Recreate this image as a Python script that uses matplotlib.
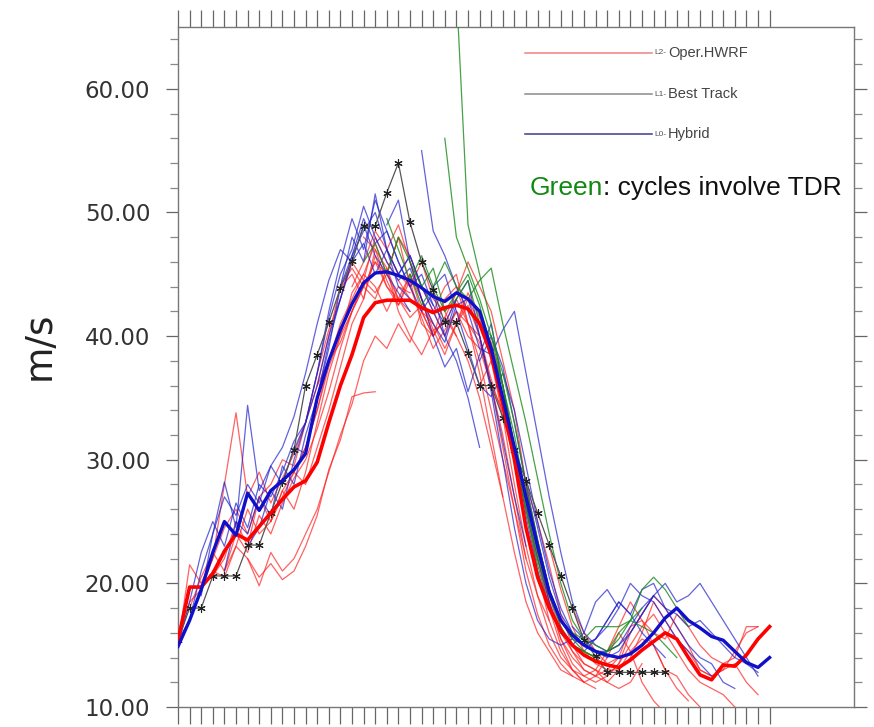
import matplotlib
matplotlib.use("Agg")
import matplotlib.pyplot as plt
from matplotlib.lines import Line2D
from matplotlib.ticker import MultipleLocator, FormatStrFormatter

# 6-hourly steps along the x axis
tick_steps = list(range(52))

# best track (stars)
best_track = [15.4, 18.0, 18.0, 20.6, 20.6, 20.6, 23.1, 23.1, 25.7, 28.2,
              30.8, 36.0, 38.5, 41.1, 43.9, 46.1, 48.9, 48.9, 51.6, 54.0,
              49.2, 46.0, 43.7, 41.1, 41.1, 38.6, 36.0, 36.0, 33.4, 30.8,
              28.3, 25.7, 23.1, 20.6, 18.0, 15.4, 14.1, 12.8, 12.8, 12.8,
              12.8, 12.8, 12.8]

# mean of the hybrid runs (thick blue)
hybrid_mean = [14.9, 17.0, 19.5, 22.5, 25.0, 23.9, 27.3, 25.9, 27.5, 28.3,
               29.2, 30.5, 35.0, 38.0, 40.5, 42.6, 44.3, 45.1, 45.2, 44.9,
               44.5, 43.9, 43.2, 42.8, 43.5, 43.0, 42.0, 39.0, 35.0, 31.0,
               27.0, 23.0, 19.3, 17.0, 15.8, 15.0, 14.5, 14.2, 14.0, 14.3,
               15.0, 16.0, 17.2, 18.0, 17.0, 16.4, 15.7, 15.4, 14.5, 13.6,
               13.2, 14.0]

# mean of the operational runs (thick red)
oper_mean = [15.4, 19.7, 19.7, 20.8, 22.6, 24.0, 23.5, 24.6, 25.7, 26.8,
             27.8, 28.3, 29.8, 33.0, 36.0, 38.5, 41.5, 42.7, 42.9, 42.9,
             42.9, 42.3, 41.9, 42.3, 42.5, 42.2, 41.0, 38.5, 34.5, 30.0,
             24.5, 20.5, 18.0, 16.2, 15.0, 14.2, 13.7, 13.4, 13.2, 13.8,
             14.6, 15.3, 16.0, 15.5, 14.0, 12.6, 12.2, 13.4, 13.3, 14.2,
             15.5, 16.5]

# single forecasts: (first step, values)
oper_runs = [
    (0, [15.0, 21.5, 20.0, 22.0, 24.5, 26.0, 24.0, 27.0, 28.0, 30.0, 29.5,
         33.0, 36.0, 40.0, 44.0, 45.5, 44.0, 46.0, 44.0, 43.0, 42.0]),
    (0, [15.4, 18.5, 19.5, 21.0, 20.5, 23.0, 26.0, 24.0, 25.0, 27.0, 29.0,
         31.0, 34.0, 38.0, 41.0, 43.0, 45.0, 44.0, 42.0, 44.0, 43.5]),
    (1, [18.0, 20.5, 22.5, 21.0, 24.0, 22.5, 25.5, 24.0, 26.5, 28.5, 30.0,
         32.5, 35.5, 39.0, 42.0, 44.5, 43.5, 45.0, 43.0, 41.5, 42.5]),
    (2, [19.5, 22.0, 28.0, 33.8, 27.0, 29.0, 26.5, 28.5, 30.5, 33.0, 37.0,
         40.5, 43.0, 46.0, 44.5, 48.0, 46.0, 44.5, 43.0, 42.0, 41.0]),
    (3, [20.6, 22.0, 25.0, 23.0, 27.0, 25.0, 27.5, 29.0, 28.0, 31.0, 34.0,
         37.5, 41.0, 43.0, 46.5, 44.0, 42.5, 44.5, 41.0, 40.0, 41.5]),
    (4, [21.0, 23.0, 22.0, 19.8, 22.5, 21.0, 22.0, 24.0, 26.0, 29.0, 32.0,
         34.5, 38.0, 40.0, 39.0, 41.0, 39.5, 42.0, 40.0, 41.5, 40.0]),
    (6, [22.0, 20.5, 21.6, 20.3, 21.0, 23.0, 25.5, 29.2, 31.6, 35.1, 35.4,
         35.5]),
    (8, [25.0, 27.5, 26.0, 29.0, 33.0, 37.0, 40.0, 43.5, 45.0, 47.5, 45.0,
         48.0, 44.0, 46.0, 43.0, 42.0, 40.0, 38.0, 35.0, 31.0, 27.0]),
    (10, [29.0, 31.0, 34.0, 37.5, 40.0, 42.0, 44.0, 43.0, 45.5, 42.0, 40.0,
          38.5, 40.5, 41.0, 43.0, 41.0, 38.0, 34.0, 30.0, 26.0, 22.0]),
    (12, [36.0, 38.0, 39.5, 42.0, 44.0, 46.0, 45.0, 48.0, 46.5, 44.0, 42.0,
          40.0, 42.0, 41.0, 39.5, 36.0, 32.0, 27.0, 22.0, 19.0, 17.0]),
    (14, [43.9, 45.0, 43.0, 47.0, 45.5, 43.0, 45.0, 42.0, 40.0, 43.0, 44.0,
          41.0, 37.0, 32.0, 27.0, 22.5, 18.5, 16.0, 14.5, 13.0, 12.5]),
    (15, [44.0, 46.0, 48.5, 47.0, 45.0, 44.0, 41.5, 39.0, 40.5, 42.0, 40.0,
          39.0, 36.0, 31.0, 26.0, 21.0, 17.5, 15.0, 13.5, 12.5, 12.0]),
    (16, [48.0, 47.0, 44.5, 42.5, 45.0, 43.0, 40.5, 38.5, 41.0, 43.5, 41.5,
          38.0, 33.5, 28.0, 23.0, 19.0, 16.0, 14.0, 13.0, 12.0, 11.5]),
    (18, [47.0, 49.0, 46.0, 43.0, 40.0, 41.5, 43.5, 46.0, 44.0, 42.0, 38.0,
          34.0, 28.0, 23.0, 18.5, 15.5, 14.0, 13.0, 12.5, 13.0, 14.0]),
    (20, [46.0, 43.0, 41.0, 39.0, 41.0, 43.0, 41.0, 39.5, 36.0, 31.0, 26.5,
          21.0, 17.0, 14.5, 13.0, 12.5, 13.0, 12.0, 11.5, 12.0, 13.5]),
    (22, [42.0, 44.0, 45.0, 41.0, 40.0, 36.5, 33.5, 30.0, 26.0, 22.0, 18.0,
          15.0, 13.0, 12.0, 12.5, 14.0, 16.0, 14.5, 12.0, 10.5, 9.5]),
    (24, [41.0, 42.5, 40.0, 36.0, 34.0, 31.0, 27.5, 23.5, 19.5, 16.5, 14.5,
          13.0, 12.5, 12.0, 13.0, 14.5, 15.5, 15.0, 13.0, 11.5, 10.5]),
    (26, [36.0, 38.0, 35.0, 31.0, 27.0, 23.0, 19.0, 16.0, 14.5, 13.5, 13.0,
          14.5, 16.5, 18.5, 17.0, 15.0, 13.0, 12.5, 11.0, 10.0, 9.0]),
    (28, [33.5, 30.5, 27.0, 22.5, 18.5, 15.5, 13.5, 12.5, 12.0, 12.5, 13.5,
          15.0, 16.5, 17.5, 16.0, 14.5, 13.0, 12.0, 11.5, 11.0, 10.0]),
    (30, [28.0, 25.0, 21.5, 17.5, 15.0, 13.5, 13.0, 12.5, 13.5, 16.0, 17.5,
          19.0, 18.0, 16.5, 15.0, 13.0, 12.5, 13.0, 13.5, 12.0, 11.0]),
    (32, [23.0, 19.5, 16.5, 14.5, 13.5, 13.0, 13.0, 14.0, 16.0, 18.5, 17.0,
          15.5, 14.5, 13.0, 12.5, 13.0, 14.5, 16.0, 16.5]),
    (34, [18.0, 16.0, 14.5, 13.5, 14.0, 16.5, 17.0, 16.0, 15.5, 17.5, 16.5,
          15.0, 14.0, 13.5, 14.0, 16.5, 16.5]),
]

hybrid_runs = [
    (0, [15.0, 18.5, 22.5, 25.0, 23.0, 26.5, 24.5, 28.0, 27.0, 29.0, 31.5,
         33.0, 36.0, 40.0, 43.0, 46.0, 47.5, 45.0, 47.0, 44.0, 43.0]),
    (0, [15.4, 17.0, 21.0, 24.0, 27.0, 25.5, 28.0, 26.5, 29.5, 31.0, 33.5,
         37.0, 41.0, 44.5, 47.0, 46.0, 49.0, 46.5, 45.0, 43.5, 42.0]),
    (2, [19.0, 24.0, 28.2, 24.5, 34.4, 27.5, 29.5, 28.0, 31.0, 30.5, 35.0,
         39.0, 44.0, 48.0, 46.0, 51.5, 47.0, 45.0, 46.5, 44.0, 42.5]),
    (4, [21.0, 25.0, 24.0, 27.0, 25.5, 29.5, 28.0, 32.0, 35.0, 39.5, 43.0,
         46.5, 49.5, 47.5, 48.5, 46.0, 44.0, 45.0, 42.5, 41.0, 43.0]),
    (6, [23.0, 24.5, 27.5, 26.0, 30.0, 33.0, 37.0, 42.0, 46.0, 49.5, 47.0,
         51.0, 48.5, 46.0, 44.0, 42.0, 43.5, 40.0, 38.0, 35.0, 31.0]),
    (10, [30.8, 33.0, 37.0, 41.5, 45.0, 47.0, 50.5, 48.0, 46.0, 44.5, 45.5,
          43.0, 41.0, 39.5, 42.5, 43.0, 40.0, 36.0, 31.5, 27.0, 23.0]),
    (14, [44.0, 46.5, 48.5, 50.0, 47.0, 45.0, 46.5, 44.0, 42.0, 40.0, 43.0,
          44.5, 40.0, 35.5, 30.0, 24.5, 20.0, 17.0, 15.5, 15.0, 15.5]),
    (18, [49.0, 51.0, 46.0, 43.0, 40.0, 37.5, 39.0, 35.5, 38.5, 41.0, 36.0,
          31.0, 25.5, 21.0, 18.0, 16.0, 15.0, 16.0, 18.5, 19.5, 18.0]),
    (21, [55.0, 48.5, 46.5, 44.0, 42.0, 39.0, 38.5, 40.5, 42.0, 37.0, 32.0,
          27.0, 22.5, 18.5, 16.0, 15.0, 14.5, 15.0, 16.5, 18.0, 19.0]),
    (22, [44.0, 45.0, 42.0, 39.0, 36.0, 35.1, 37.0, 34.0, 29.5, 25.0, 21.0,
          18.0, 16.0, 15.0, 15.5, 17.0, 18.5, 17.5, 16.0, 15.0, 14.0]),
    (26, [38.0, 40.0, 37.5, 33.0, 28.0, 23.5, 19.5, 17.0, 15.5, 15.0, 15.5,
          16.5, 18.0, 20.0, 19.0, 18.5, 17.0, 15.5, 14.5, 13.5, 12.5]),
    (28, [34.0, 31.0, 26.5, 22.0, 18.5, 16.0, 15.0, 14.5, 15.5, 17.0, 18.5,
          17.5, 19.5, 20.0, 18.0, 16.5, 15.0, 14.0, 13.5, 12.0, 11.5]),
    (30, [28.5, 24.5, 20.5, 17.5, 16.0, 15.0, 14.5, 14.5, 15.0, 16.0, 17.5,
          19.0, 20.0, 18.5, 19.0, 20.0, 18.5, 17.0, 15.5, 14.0, 12.5]),
    (34, [16.5, 15.5, 14.5, 14.0, 14.5, 16.0, 17.5, 19.0, 18.0, 17.5, 16.5,
          17.0, 16.0, 15.0, 14.0, 13.5, 12.8]),
]

# hybrid cycles with TDR data (green)
tdr_runs = [
    (16, [46.0, 47.5, 45.0, 48.0, 46.0, 44.0, 45.5, 42.0, 43.0, 44.5, 41.0,
          40.0, 37.0, 33.0, 28.0, 23.5, 19.5, 17.0, 15.5, 14.5, 14.0]),
    (18, [49.5, 47.0, 44.5, 46.5, 44.0, 42.0, 43.5, 45.0, 42.5, 39.0, 36.0,
          31.0, 26.0, 21.5, 18.0, 16.0, 15.0, 14.5, 14.0, 14.5, 15.0]),
    (20, [45.0, 42.5, 44.0, 46.0, 44.0, 43.0, 44.5, 45.5, 41.0, 37.0, 33.0,
          28.5, 24.0, 20.0, 17.0, 15.5, 15.0, 14.5, 15.5, 17.0, 18.0]),
    (23, [56.0, 48.0, 45.5, 43.0, 40.0, 36.0, 32.0, 27.0, 22.5, 19.0, 16.5,
          15.0, 14.5, 14.0, 14.5, 16.0, 17.0, 16.5, 16.0, 15.0, 14.0]),
    (24, [68.0, 49.0, 45.0, 41.0, 36.0, 31.0, 26.0, 22.0, 19.0, 17.0, 16.0,
          15.5, 16.5, 16.5, 16.5, 17.0, 19.5, 20.5, 19.5, 18.0, 16.5]),
]

W, H = 874, 727
fig = plt.figure(figsize=(W / 100, H / 100), dpi=100)
ax = fig.add_axes([178 / W, 1 - 707 / H, (854 - 178) / W, (707 - 27) / H])


def steps(start, vals):
    return list(range(start, start + len(vals)))


for s, v in oper_runs:
    ax.plot(steps(s, v), v, color="#ff2020", lw=0.9, alpha=0.7, zorder=2)
for s, v in hybrid_runs:
    ax.plot(steps(s, v), v, color="#2020cc", lw=0.9, alpha=0.7, zorder=3)
for s, v in tdr_runs:
    ax.plot(steps(s, v), v, color="#1a8a1a", lw=0.9, alpha=0.8, zorder=4)

ax.plot(steps(0, best_track), best_track, color="#555555", lw=0.9,
        marker=(6, 2, 0), ms=6, mec="#222222", mew=0.8, zorder=5)
ax.plot(steps(0, oper_mean), oper_mean, color="#ff0000", lw=2.6, zorder=6)
ax.plot(steps(0, hybrid_mean), hybrid_mean, color="#1010c8", lw=2.4, zorder=7)

ax.set_xlim(0, (854 - 178) / 11.6)
ax.set_ylim(10, 65)

# axes styling, NCL look
for sp in ax.spines.values():
    sp.set_color("#777777")
    sp.set_linewidth(1.0)

ax.set_xticks(tick_steps)
ax.tick_params(axis="x", which="major", direction="out", length=12,
               width=0.9, color="#666666", top=True, bottom=True,
               labelbottom=False, labeltop=False)
ax.yaxis.set_major_locator(MultipleLocator(10))
ax.yaxis.set_minor_locator(MultipleLocator(2))
ax.yaxis.set_major_formatter(FormatStrFormatter("%.2f"))
ax.tick_params(axis="y", which="major", direction="out", length=9,
               width=0.9, color="#666666", left=True, right=True, pad=11,
               labelsize=16.5, labelcolor="#333333")
ax.tick_params(axis="y", which="minor", direction="out", length=6,
               width=0.9, color="#888888", left=True, right=True)
for t in ax.get_yticklabels():
    t.set_family("DejaVu Sans")

ax.set_ylabel("m/s", fontsize=27, color="#222222", family="DejaVu Sans")
ax.yaxis.set_label_coords((58 - 178) / 676, (707 - 346) / 680)

# legend drawn by hand, as in the original
legend_items = [("L2-", "Oper.HWRF", "#f08080", 53),
                ("L1-", "Best Track", "#8a8a8a", 94),
                ("L0-", "Hybrid", "#3a3a8a", 134)]
for tag, name, col, yp in legend_items:
    y = 1 - yp / H
    fig.add_artist(Line2D([525 / W, 652 / W], [y, y], color=col, lw=1.1,
                          transform=fig.transFigure))
    fig.text(654 / W, y, tag, fontsize=6, color="#555555", va="center",
             family="Liberation Sans")
    fig.text(668 / W, y, name, fontsize=10.5, color="#444444", va="center",
             family="Liberation Sans")

g = fig.text(530 / W, 1 - 188 / H, "Green", fontsize=19, color="#118811",
             va="center", family="Liberation Sans")
fig.canvas.draw()
bb = g.get_window_extent()
fig.text(bb.x1 / W, 1 - 188 / H, ": cycles involve TDR", fontsize=19,
         color="#111111", va="center", family="Liberation Sans")

fig.savefig("out.png", dpi=100)
